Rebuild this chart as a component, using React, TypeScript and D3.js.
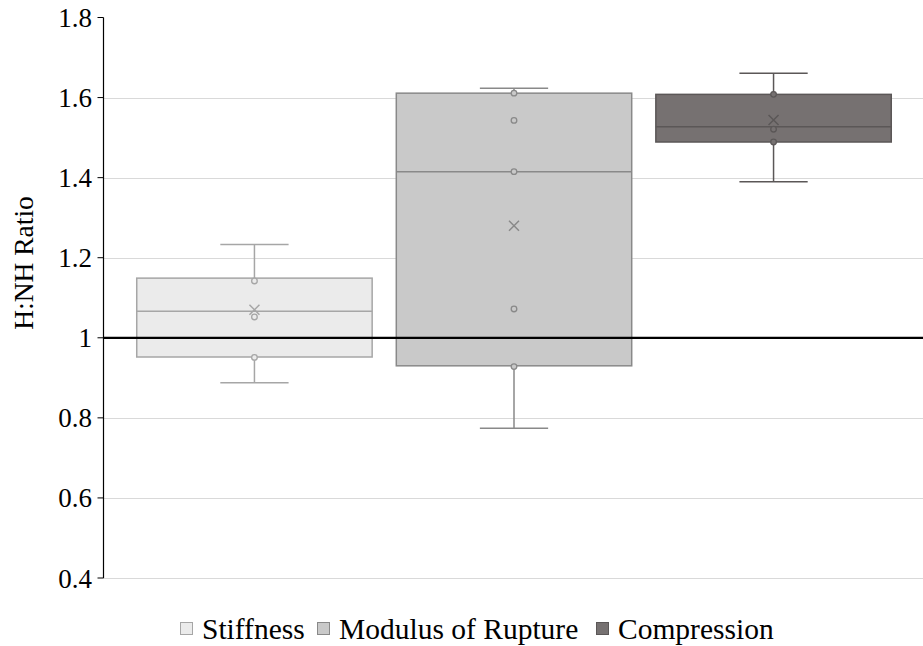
import React from 'react';
import * as d3 from 'd3';

// Series (Excel-style box & whisker)
const seriesNames = ['Stiffness', 'Modulus of Rupture', 'Compression'];
const whiskerLow = [0.888, 0.774, 1.39];
const q1Values = [0.952, 0.93, 1.489];
const medianValues = [1.066, 1.415, 1.527];
const q3Values = [1.149, 1.611, 1.608];
const whiskerHigh = [1.233, 1.623, 1.661];
const meanValues = [1.07, 1.28, 1.544];
const innerPoints = [
  [1.142, 1.052, 0.951],
  [1.611, 1.543, 1.415, 1.072, 0.928],
  [1.608, 1.521, 1.489],
];
const yTicks = [0.4, 0.6, 0.8, 1, 1.2, 1.4, 1.6, 1.8];

const fills = ['#ebebeb', '#c9c9c9', '#767171'];
const strokes = ['#a6a6a6', '#898989', '#5b5757'];

const WIDTH = 923;
const HEIGHT = 646;
const FONT = 'Liberation Serif';

const left = 103;
const right = 923;

const y = d3.scaleLinear().domain([0.4, 1.8]).range([578, 17.5]);
const x = d3.scaleBand<string>()
  .domain(seriesNames)
  .range([left, right + 2])
  .paddingInner(0.093)
  .paddingOuter(0.13);

const App: React.FC = () => {
  const bw = x.bandwidth();
  const capW = bw * 0.29;
  // legend swatch positions (text follows each swatch)
  const legendX = [180, 317, 596];

  return (
    <svg width={WIDTH} height={HEIGHT} style={{ position: 'absolute', left: 0, top: 0 }}>
      <rect width={WIDTH} height={HEIGHT} fill="#fff" />

      {/* gridlines */}
      {yTicks.filter(t => t !== 1.8).map(t => (
        <line key={`g${t}`} x1={left} x2={right}
          y1={Math.round(y(t)) + 0.5} y2={Math.round(y(t)) + 0.5}
          stroke="#d9d9d9" strokeWidth={1} />
      ))}

      {/* y axis */}
      <line x1={left + 0.5} x2={left + 0.5} y1={y(1.8)} y2={y(0.4)} stroke="#000" strokeWidth={1.2} />
      {yTicks.map(t => (
        <g key={`t${t}`}>
          <line x1={left - 5.5} x2={left + 0.5} y1={y(t)} y2={y(t)} stroke="#000" strokeWidth={1} />
          <text x={left - 11} y={y(t) + 9.5} textAnchor="end" fill="#000"
            style={{ fontFamily: FONT, fontSize: 27 }}>{String(t)}</text>
        </g>
      ))}

      {/* axis title */}
      <text transform="translate(33,263) rotate(-90)" textAnchor="middle" fill="#000"
        style={{ fontFamily: FONT, fontSize: 27.5 }}>H:NH Ratio</text>

      {/* boxes */}
      {seriesNames.map((name, i) => {
        const x0 = x(name)!;
        const cx = x0 + bw / 2;
        const stroke = strokes[i];
        const my = y(meanValues[i]);
        const s = 5;
        return (
          <g key={name}>
            <line x1={cx} x2={cx} y1={y(q3Values[i])} y2={y(whiskerHigh[i])} stroke={stroke} strokeWidth={1.5} />
            <line x1={cx} x2={cx} y1={y(q1Values[i])} y2={y(whiskerLow[i])} stroke={stroke} strokeWidth={1.5} />
            {[whiskerHigh[i], whiskerLow[i]].map((v, k) => (
              <line key={k} x1={cx - capW / 2} x2={cx + capW / 2} y1={y(v)} y2={y(v)} stroke={stroke} strokeWidth={1.5} />
            ))}
            <rect x={x0} y={y(q3Values[i])} width={bw} height={y(q1Values[i]) - y(q3Values[i])}
              fill={fills[i]} stroke={stroke} strokeWidth={1.5} />
            <line x1={x0} x2={x0 + bw} y1={y(medianValues[i])} y2={y(medianValues[i])} stroke={stroke} strokeWidth={1.5} />
            {innerPoints[i].map((p, k) => (
              <circle key={k} cx={cx} cy={y(p)} r={2.8} fill={fills[i]} stroke={stroke} strokeWidth={1.3} />
            ))}
            <path d={`M${cx - s},${my - s}L${cx + s},${my + s}M${cx - s},${my + s}L${cx + s},${my - s}`}
              stroke={stroke} strokeWidth={1.5} fill="none" />
          </g>
        );
      })}

      {/* reference line at 1 */}
      <line x1={left} x2={right} y1={y(1)} y2={y(1)} stroke="#000" strokeWidth={2.2} />

      {/* legend */}
      {seriesNames.map((name, i) => (
        <g key={`l${name}`}>
          <rect x={legendX[i] + 0.5} y={622.5} width={12} height={12}
            fill={fills[i]} stroke={strokes[i]} strokeWidth={1} />
          <text x={legendX[i] + 22} y={639} fill="#000"
            style={{ fontFamily: FONT, fontSize: 29.5 }}>{name}</text>
        </g>
      ))}
    </svg>
  );
};

export default App;
